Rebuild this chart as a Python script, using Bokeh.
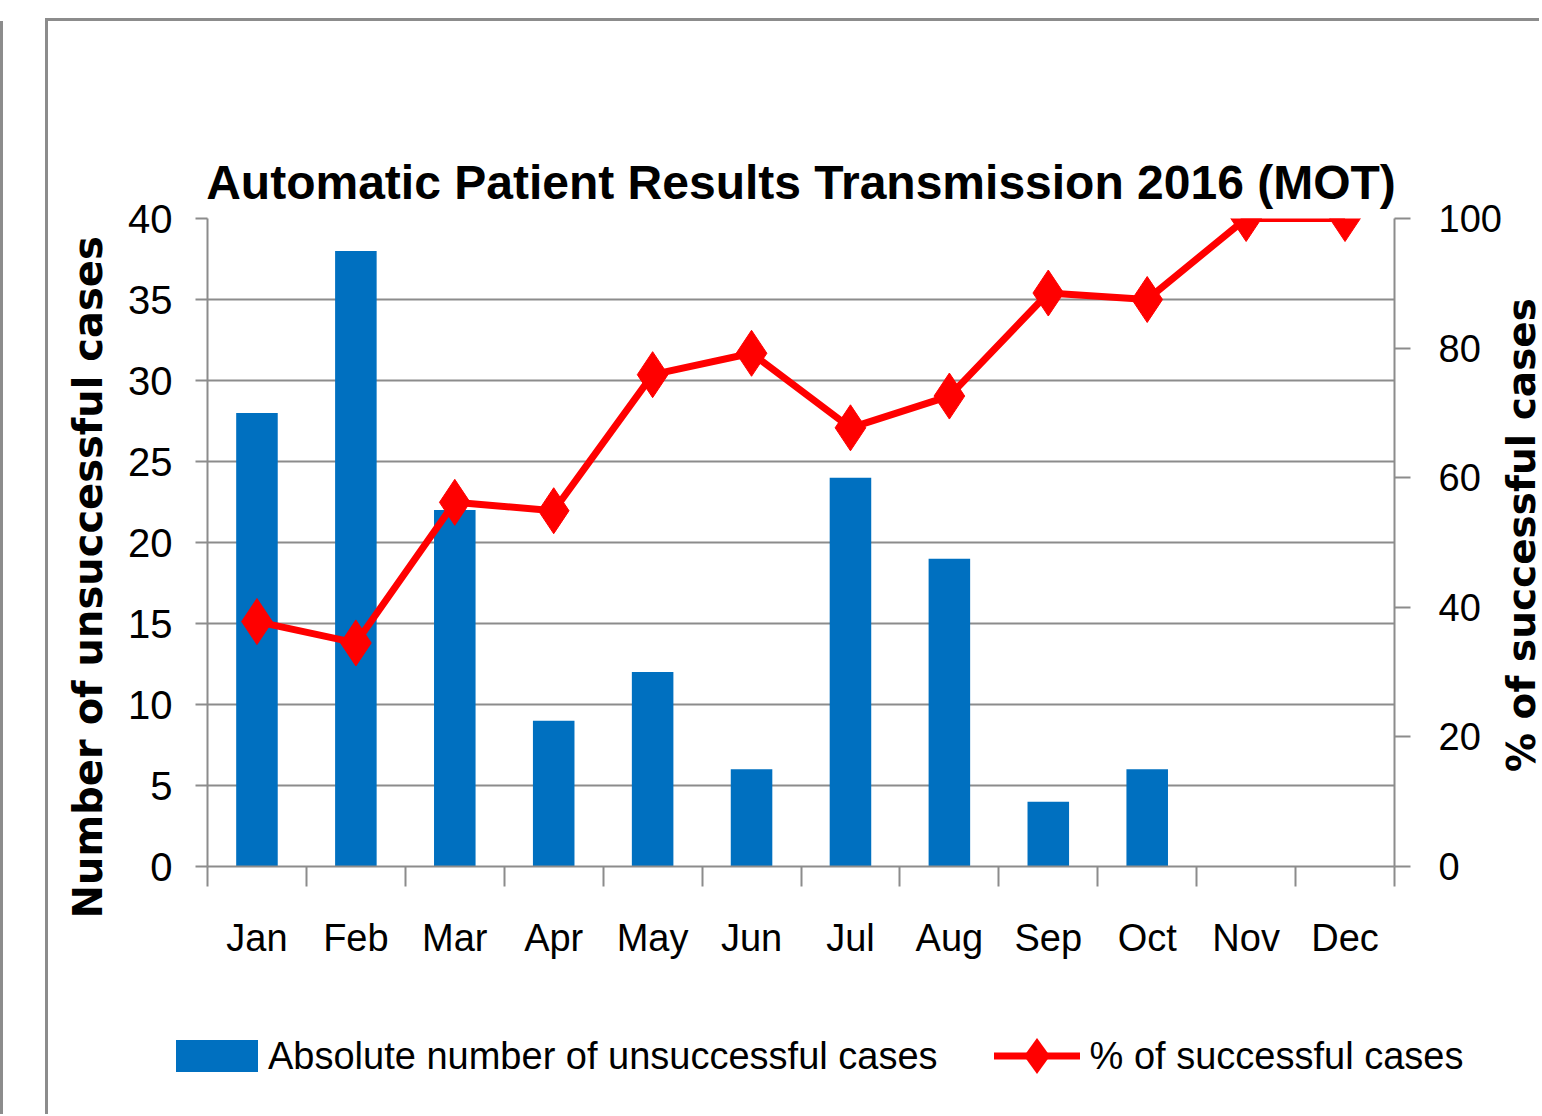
from bokeh.plotting import figure
from bokeh.layouts import column
from bokeh.models import (Range1d, LinearAxis, FixedTicker, Div, ColumnDataSource)
from bokeh.embed import file_html
from bokeh.resources import INLINE

# ---- data ----
months = ["Jan", "Feb", "Mar", "Apr", "May", "Jun", "Jul", "Aug", "Sep", "Oct", "Nov", "Dec"]
unsuccessful = [28, 38, 22, 9, 12, 6, 24, 19, 4, 6, 0, 0]
pct_successful = [37.8, 34.5, 56.2, 54.9, 75.9, 79.2, 67.7, 72.6, 88.5, 87.5, 100, 100]
left_ticks = [0, 5, 10, 15, 20, 25, 30, 35, 40]
right_ticks = [0, 20, 40, 60, 80, 100]

title_text = "Automatic Patient Results Transmission 2016 (MOT)"
left_label = "Number of unsuccessful cases"
right_label = "% of successful cases"
bar_label = "Absolute number of unsuccessful cases"
line_label = "% of successful cases"

SANS = "Liberation Sans"
BOLDFONT = "DejaVu Sans"
GRAY = "#8c8c8c"
BLUE = "#0070C0"
RED = "#FF0000"

xc = [i + 0.5 for i in range(len(months))]
src = ColumnDataSource(dict(x=xc, month=months, n=unsuccessful, pct=pct_successful))

W = 1494
p = figure(width=W, height=945, output_backend="svg", toolbar_location=None,
           x_range=Range1d(0, 12), y_range=Range1d(0, 40),
           min_border_left=159, min_border_right=148, min_border_top=197, min_border_bottom=100)
p.styles = {"box-shadow": f"-3px -3px 0 0 {GRAY}, -3px 0 0 0 {GRAY}"}
p.extra_y_ranges = {"pct": Range1d(0, 100)}
p.outline_line_color = None
p.background_fill_color = "white"
p.border_fill_color = "white"

# the figure's own bottom and left axes
xa = p.below[0]
ya = p.left[0]

# title
p.title.text = title_text
p.title.align = "center"
p.title.text_font = SANS
p.title.text_font_style = "bold"
p.title.text_font_size = "48px"
p.title.text_color = "black"
p.title.standoff = 20

# grid
p.xgrid.visible = False
p.ygrid.ticker = FixedTicker(ticks=left_ticks)
p.ygrid.grid_line_color = GRAY
p.ygrid.grid_line_width = 2

# x axis (month labels centred, ticks between months)
xa.ticker = FixedTicker(ticks=xc, minor_ticks=list(range(13)))
xa.major_label_overrides = {x: m for x, m in zip(xc, months)}
xa.major_tick_out = 0
xa.major_tick_in = 0
xa.minor_tick_out = 20
xa.minor_tick_in = 0
xa.minor_tick_line_color = GRAY
xa.minor_tick_line_width = 2
xa.axis_line_color = GRAY
xa.axis_line_width = 2
xa.major_label_standoff = 30
xa.major_label_text_font = SANS
xa.major_label_text_font_size = "38px"
xa.major_label_text_color = "black"

# left axis
ya.ticker = FixedTicker(ticks=left_ticks)
ya.major_tick_out = 12
ya.major_tick_in = 0
ya.minor_tick_out = 0
ya.minor_tick_in = 0
ya.major_tick_line_color = GRAY
ya.major_tick_line_width = 2
ya.axis_line_color = GRAY
ya.axis_line_width = 2
ya.major_label_standoff = 23
ya.major_label_text_font = SANS
ya.major_label_text_font_size = "40px"
ya.major_label_text_color = "black"
ya.axis_label = left_label + "\u00a0" * 5
ya.axis_label_text_font = BOLDFONT
ya.axis_label_text_font_style = "bold"
ya.axis_label_text_font_size = "40px"
ya.axis_label_text_color = "black"
ya.axis_label_standoff = 14

# invisible spacer between the plot area and the title (no ticks, so nothing is drawn;
# the white tick colour keeps its tick length counted in the layout)
top_spacer = LinearAxis(ticker=FixedTicker(ticks=[]))
top_spacer.major_tick_out = 72
top_spacer.major_tick_in = 0
top_spacer.major_tick_line_color = "white"
top_spacer.minor_tick_out = 0
top_spacer.minor_tick_in = 0
top_spacer.minor_tick_line_color = None
top_spacer.axis_line_color = None
top_spacer.major_label_standoff = 0
p.add_layout(top_spacer, "above")

# right axis (its title is set below, reading bottom-to-top as in the reference)
ra = LinearAxis(y_range_name="pct", ticker=FixedTicker(ticks=right_ticks))
ra.major_tick_out = 16
ra.major_tick_in = 0
ra.minor_tick_out = 0
ra.minor_tick_in = 0
ra.major_tick_line_color = GRAY
ra.major_tick_line_width = 2
ra.axis_line_color = GRAY
ra.axis_line_width = 2
ra.major_label_standoff = 28
ra.major_label_text_font = SANS
ra.major_label_text_font_size = "38px"
ra.major_label_text_color = "black"
p.add_layout(ra, "right")

# data
bars = p.vbar(x="x", top="n", width=0.42, source=src, fill_color=BLUE, line_color=None)
ln = p.line("x", "pct", source=src, y_range_name="pct", line_color=RED, line_width=7)
pts = p.scatter("x", "pct", source=src, y_range_name="pct", marker="diamond", size=46,
                fill_color=RED, line_color=RED)

# legend strip (and the rotated right-axis title) as real HTML text
legend_html = f"""
<div style="position:relative;width:{W}px;height:148px;color:#000;font-family:'{SANS}',sans-serif;">
  <div style="position:absolute;left:128px;top:68px;height:44px;display:flex;align-items:center;white-space:nowrap;font-size:38px;line-height:44px;">
    <span style="display:inline-block;width:82px;height:32px;background:{BLUE};"></span>
    <span style="margin-left:10px;">{bar_label}</span>
    <svg width="86" height="44" style="margin-left:56px;display:block;">
      <line x1="0" y1="22" x2="86" y2="22" stroke="{RED}" stroke-width="7"/>
      <polygon points="43,4 56,22 43,40 30,22" fill="{RED}"/>
    </svg>
    <span style="margin-left:10px;">{line_label}</span>
  </div>
  <div style="position:absolute;left:1474px;top:-431px;transform:translate(-50%,-50%) rotate(-90deg);white-space:nowrap;font-family:'{BOLDFONT}',sans-serif;font-weight:bold;font-size:39px;line-height:1.15;">{right_label}</div>
</div>
"""
leg = Div(text=legend_html, width=W, height=148, margin=(0, 0, 0, 0),
          styles={"box-shadow": f"-3px 0 0 0 {GRAY}", "overflow": "visible"})

layout = column(p, leg, margin=(21, 0, 0, 48),
                styles={"box-shadow": f"-45px 0 0 0 white, -48px 0 0 0 {GRAY}"})

open("out.html", "w").write(file_html(layout, INLINE))
